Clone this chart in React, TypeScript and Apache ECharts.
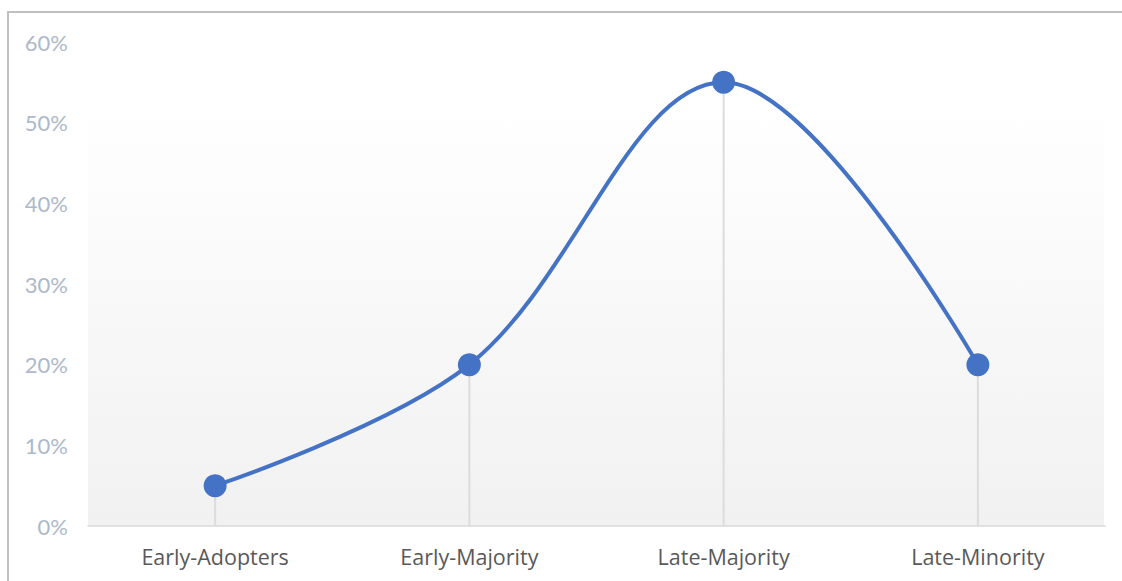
import React, { useEffect, useRef } from "react";
import * as echarts from "echarts";

// Adoption share per segment (percent)
const categories = ["Early-Adopters", "Early-Majority", "Late-Majority", "Late-Minority"];
const shareValues = [5, 20, 55, 20];
const yTicks = [0, 10, 20, 30, 40, 50, 60];

export default function App() {
  const ref = useRef<HTMLDivElement>(null);

  useEffect(() => {
    if (!ref.current) return;
    const chart = echarts.init(ref.current, undefined, { renderer: "svg" });
    const width = ref.current.clientWidth;
    const height = ref.current.clientHeight;
    const gridLeft = 88;
    const gridRight = 17;
    const gridTop = 42;
    const gridBottom = 55;
    const shadeTop = 104;

    chart.setOption({
      animation: false,
      backgroundColor: "#ffffff",
      graphic: [
        {
          // outer frame (open towards the right and bottom)
          type: "rect",
          z: -10,
          silent: true,
          shape: { x: 8, y: 12, width: width + 50, height: height + 50 },
          style: { fill: "none", stroke: "#c0c0c0", lineWidth: 2 },
        },
        {
          // plot-area shading
          type: "rect",
          z: -5,
          silent: true,
          shape: {
            x: gridLeft,
            y: shadeTop,
            width: width - gridLeft - gridRight - 1,
            height: height - gridBottom - shadeTop,
          },
          style: {
            fill: new echarts.graphic.LinearGradient(0, 0, 0, 1, [
              { offset: 0, color: "#ffffff" },
              { offset: 1, color: "#f1f1f1" },
            ]),
          },
        },
      ],
      grid: { left: gridLeft, right: gridRight, top: gridTop, bottom: gridBottom, containLabel: false },
      xAxis: {
        type: "category",
        data: categories,
        boundaryGap: true,
        axisLine: { show: true, lineStyle: { color: "#d9d9d9", width: 1.5 } },
        axisTick: { show: false },
        axisLabel: {
          color: "#595959",
          fontFamily: "Open Sans",
          fontSize: 21.5,
          margin: 19,
        },
        splitLine: { show: false },
      },
      yAxis: {
        type: "value",
        min: yTicks[0],
        max: yTicks[yTicks.length - 1],
        interval: 10,
        axisLine: { show: false },
        axisTick: { show: false },
        splitLine: { show: false },
        axisLabel: {
          color: "#adb9ca",
          fontFamily: "Lato",
          fontSize: 22,
          margin: 20,
          formatter: (v: number) => `${v}%`,
        },
      },
      series: [
        {
          // drop lines from each point to the axis
          type: "bar",
          data: shareValues,
          barWidth: 2,
          z: 1,
          silent: true,
          itemStyle: { color: "#dcdcdc" },
        },
        {
          type: "line",
          data: shareValues,
          smooth: 0.36,
          z: 3,
          symbol: "circle",
          symbolSize: 23,
          lineStyle: { color: "#4472c4", width: 4 },
          itemStyle: { color: "#4472c4" },
        },
      ],
    });

    return () => chart.dispose();
  }, []);

  return (
    <div
      ref={ref}
      style={{ position: "fixed", left: 0, top: 0, width: 1122, height: 581 }}
    />
  );
}
